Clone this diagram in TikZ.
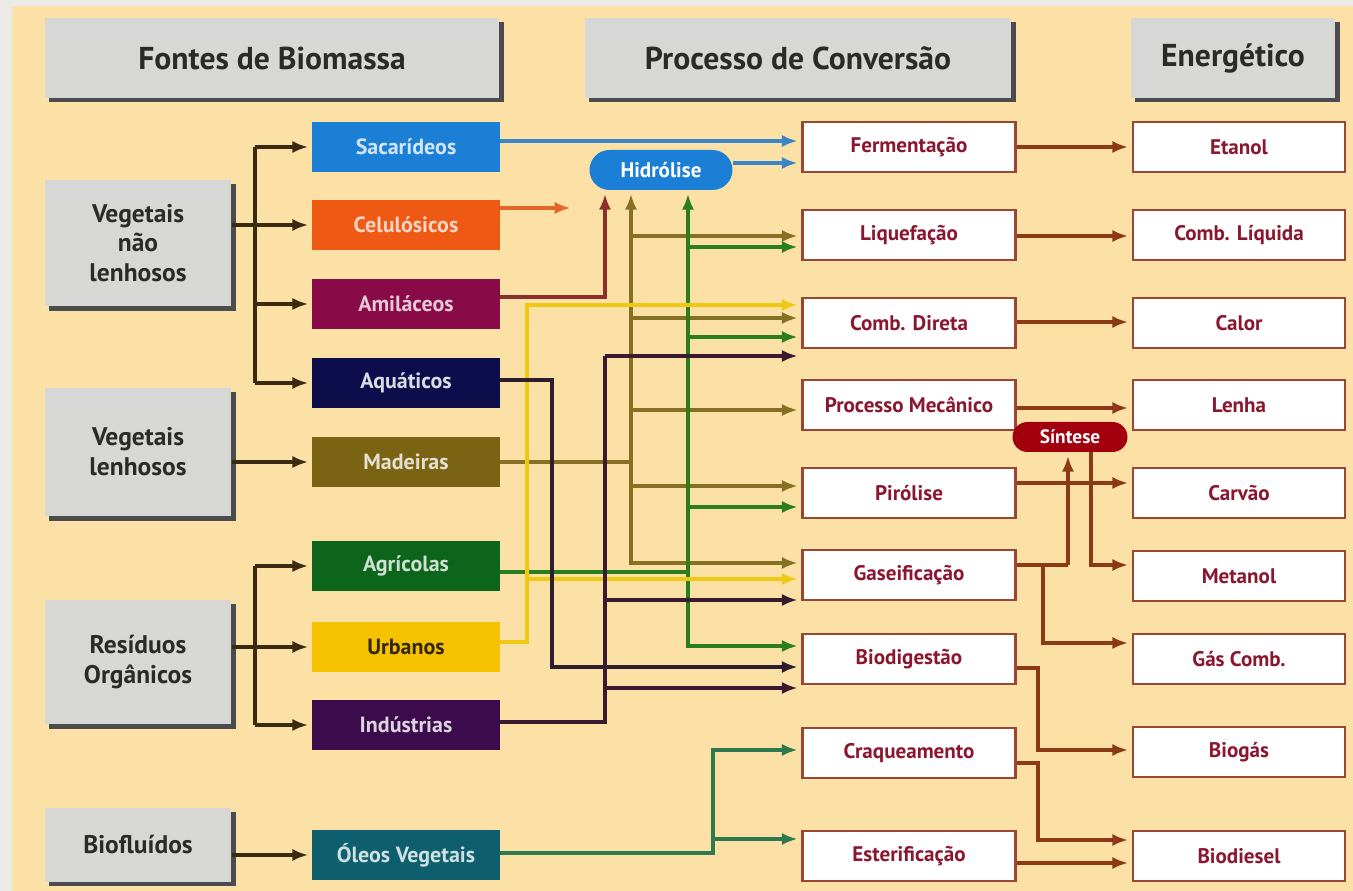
\documentclass[tikz,border=0pt]{standalone}
\usepackage{fontspec}
\setmainfont{PT Sans}
\usepackage{tikz}
\usetikzlibrary{arrows.meta,positioning,calc,shadows}

\definecolor{paper}{HTML}{FCE1A7}
\definecolor{rim}{HTML}{ECEAE6}
\definecolor{headgray}{HTML}{D7D7D5}
\definecolor{headtext}{HTML}{2A2A2A}
\definecolor{prtext}{HTML}{8A1630}
\definecolor{prline}{HTML}{9B4634}
\definecolor{lbrown}{HTML}{3B2A12}
\definecolor{rbrown}{HTML}{8C3A16}
\definecolor{csac}{HTML}{1B7FD6}
\definecolor{ccel}{HTML}{EE5913}
\definecolor{cami}{HTML}{880A46}
\definecolor{caqu}{HTML}{0D0D4B}
\definecolor{cmad}{HTML}{7A6313}
\definecolor{cagr}{HTML}{0D651C}
\definecolor{curb}{HTML}{F6C200}
\definecolor{cind}{HTML}{3B0B4B}
\definecolor{cole}{HTML}{0D5F6E}
\definecolor{csin}{HTML}{A3000F}
\definecolor{lblue}{HTML}{3A86C8}
\definecolor{lorange}{HTML}{E0662A}
\definecolor{lami}{HTML}{8A2E2E}
\definecolor{lolive}{HTML}{857024}
\definecolor{lgreen}{HTML}{2A7E1E}
\definecolor{lyellow}{HTML}{F0C814}
\definecolor{lnavy}{HTML}{2B1E2E}
\definecolor{lind}{HTML}{3A1A2E}
\definecolor{lteal}{HTML}{2E7A4E}

\begin{document}
\begin{tikzpicture}[x=0.02cm,y=-0.02cm,
  head/.style={fill=headgray,minimum height=1.6cm,inner sep=0pt,text=headtext,
    font=\bfseries\fontsize{18}{20}\selectfont,
    drop shadow={shadow xshift=2.5pt,shadow yshift=-2.5pt,fill=black!70,opacity=1}},
  src/.style={fill=headgray,minimum width=3.74cm,inner sep=0pt,text=headtext,align=center,
    font=\bfseries\fontsize{14.5}{17}\selectfont,
    drop shadow={shadow xshift=2.5pt,shadow yshift=-2.5pt,fill=black!70,opacity=1}},
  kind/.style={minimum width=3.76cm,minimum height=1cm,inner sep=0pt,
    font=\bfseries\fontsize{12.5}{14}\selectfont},
  proc/.style={draw=prline,line width=1.6pt,fill=white,minimum width=4.26cm,minimum height=1cm,
    inner sep=0pt,text=prtext,font=\bfseries\fontsize{12}{14}\selectfont},
  prod/.style={proc,minimum width=4.24cm},
  link/.style={line width=2pt},
  arr/.style={link,-{Latex[length=9pt,width=7pt]},shorten >=2pt},
]
\useasboundingbox (0,0) rectangle (1353,891);
\fill[rim] (0,0) rectangle (1353,891);
\fill[paper] (12,6) rectangle (1353,891);

% titulos
\node[head,minimum width=9.1cm] (hfon) at (272,58) {Fontes de Biomassa};
\node[head,minimum width=8.54cm] (hpro) at (798,58) {Processo de Conversão};
\node[head,minimum width=4.1cm] (hene) at (1233,58) {Energético};

% fontes
\node[src,minimum height=2.54cm] (vnl) at (138,243) {Vegetais\\não\\lenhosos};
\node[src,minimum height=2.58cm] (vl) at (138,452) {Vegetais\\lenhosos};
\node[src,minimum height=2.5cm] (ro) at (138,662) {Resíduos\\Orgânicos};
\node[src,minimum height=1.48cm] (bio) at (138,845) {Biofluídos};

\node[kind,fill=csac,text=csac!20!white] (sac) at (406,147) {Sacarídeos};
\node[kind,fill=ccel,text=ccel!25!white] (cel) at (406,225) {Celulósicos};
\node[kind,fill=cami,text=cami!22!white] (ami) at (406,304) {Amiláceos};
\node[kind,fill=caqu,text=caqu!15!white] (aqu) at (406,383) {Aquáticos};
\node[kind,fill=cmad,text=cmad!20!white] (mad) at (406,462) {Madeiras};
\node[kind,fill=cagr,text=cagr!20!white] (agr) at (406,566) {Agrícolas};
\node[kind,fill=curb,text=black!80!curb] (urb) at (406,647) {Urbanos};
\node[kind,fill=cind,text=cind!18!white] (ind) at (406,725) {Indústrias};
\node[kind,fill=cole,text=cole!20!white] (ole) at (406,855) {Óleos Vegetais};

% processos
\node[proc] (fer) at (909,147) {Fermentação};
\node[proc] (liq) at (909,235) {Liquefação};
\node[proc] (cdi) at (909,323) {Comb. Direta};
\node[proc] (pme) at (909,405) {Processo Mecânico};
\node[proc] (pir) at (909,493) {Pirólise};
\node[proc] (gas) at (909,575) {Gaseificação};
\node[proc] (bdg) at (909,659) {Biodigestão};
\node[proc] (cra) at (909,753) {Craqueamento};
\node[proc] (est) at (909,856) {Esterificação};

\node[fill=csac,text=white,rounded corners=0.4cm,minimum width=2.86cm,minimum height=0.8cm,
  inner sep=0pt,font=\bfseries\fontsize{12}{14}\selectfont] (hid) at (661,170) {Hidrólise};

% energeticos
\node[prod] (eta) at (1239,147) {Etanol};
\node[prod] (cli) at (1239,235) {Comb. Líquida};
\node[prod] (cal) at (1239,323) {Calor};
\node[prod] (len) at (1239,405) {Lenha};
\node[prod] (car) at (1239,493) {Carvão};
\node[prod] (met) at (1239,576) {Metanol};
\node[prod] (gco) at (1239,659) {Gás Comb.};
\node[prod] (biog) at (1239,752) {Biogás};
\node[prod] (bdi) at (1239,856) {Biodiesel};

\node[fill=csin,text=white,rounded corners=0.3cm,minimum width=2.3cm,minimum height=0.6cm,
  inner sep=0pt,font=\bfseries\fontsize{11}{13}\selectfont] (sin) at (1070,437) {Síntese};

% fontes -> tipos
\coordinate (s1) at (255,225);
\coordinate (s2) at (255,647);
\draw[link,lbrown] (vnl.east |- s1) -- (s1);
\draw[link,lbrown] (s1 |- sac.west) -- (s1 |- aqu.west);
\foreach \n in {sac,cel,ami,aqu} \draw[arr,lbrown] (s1 |- \n.west) -- (\n);
\draw[arr,lbrown] (vl.east |- mad.west) -- (mad);
\draw[link,lbrown] (ro.east |- s2) -- (s2);
\draw[link,lbrown] (s2 |- agr.west) -- (s2 |- ind.west);
\foreach \n in {agr,urb,ind} \draw[arr,lbrown] (s2 |- \n.west) -- (\n);
\draw[arr,lbrown] (bio.east |- ole.west) -- (ole);

% tipos -> processos
\coordinate (celend) at (574,208);
\draw[arr,lblue] (sac.east |- 0,141) -- (fer.west |- 0,141);
\draw[arr,lblue] (hid.east |- 0,163) -- (fer.west |- 0,163);
\draw[arr,lorange] (cel.east |- celend) -- (celend);
\draw[arr,lami] (ami.east |- 0,297) -| (605,0 |- hid.south);

\draw[link,lolive] (mad.east) -- (631,0 |- mad.east);
\draw[arr,lolive] (631,0 |- mad.east) |- (gas.west |- 0,563);
\draw[arr,lolive] (631,0 |- mad.east) -- (631,0 |- hid.south);
\foreach \y/\n in {236/liq,318/cdi,410/pme,486/pir}
  \draw[arr,lolive] (631,\y) -- (\n.west |- 0,\y);

\draw[link,lgreen] (agr.east |- 0,572) -- (688,572);
\draw[arr,lgreen] (688,572) |- (bdg.west |- 0,646);
\draw[arr,lgreen] (688,572) -- (688,0 |- hid.south);
\foreach \y/\n in {247/liq,337/cdi,507/pir}
  \draw[arr,lgreen] (688,\y) -- (\n.west |- 0,\y);

\draw[arr,lyellow] (urb.east |- 0,642) -| (527,305) -- (cdi.west |- 0,305);
\draw[arr,lyellow] (527,579) -- (gas.west |- 0,579);

\draw[arr,lnavy] (aqu.east |- 0,380) -| (552,667) -- (bdg.west |- 0,667);

\draw[link,lind] (ind.east |- 0,722) -| (605,356);
\draw[arr,lind] (605,356) -- (cdi.west |- 0,356);
\draw[arr,lind] (605,600) -- (gas.west |- 0,600);
\draw[arr,lind] (605,688) -- (bdg.west |- 0,688);

\draw[arr,lteal] (ole.east |- 0,853) -| (713,750) -- (cra.west |- 0,750);
\draw[arr,lteal] (713,839) -- (est.west |- 0,839);

% processos -> energeticos
\foreach \a/\b/\y in {fer/eta/147,liq/cli/236,cdi/cal/322,pme/len/408,pir/car/483}
  \draw[arr,rbrown] (\a.east |- 0,\y) -- (\b.west |- 0,\y);
\draw[link,rbrown] (gas.east |- 0,565) -- (1068,565);
\draw[arr,rbrown] (1068,565) -- (1068,0 |- sin.south);
\draw[arr,rbrown] (1043,565) |- (gco.west |- 0,643);
\draw[arr,rbrown] (1091,0 |- sin.south) |- (met.west |- 0,565);
\draw[arr,rbrown] (bdg.east |- 0,668) -| (1038,750) -- (biog.west |- 0,750);
\draw[arr,rbrown] (cra.east |- 0,763) -| (1038,840) -- (bdi.west |- 0,840);
\draw[arr,rbrown] (est.east |- 0,863) -- (bdi.west |- 0,863);
\end{tikzpicture}
\end{document}
